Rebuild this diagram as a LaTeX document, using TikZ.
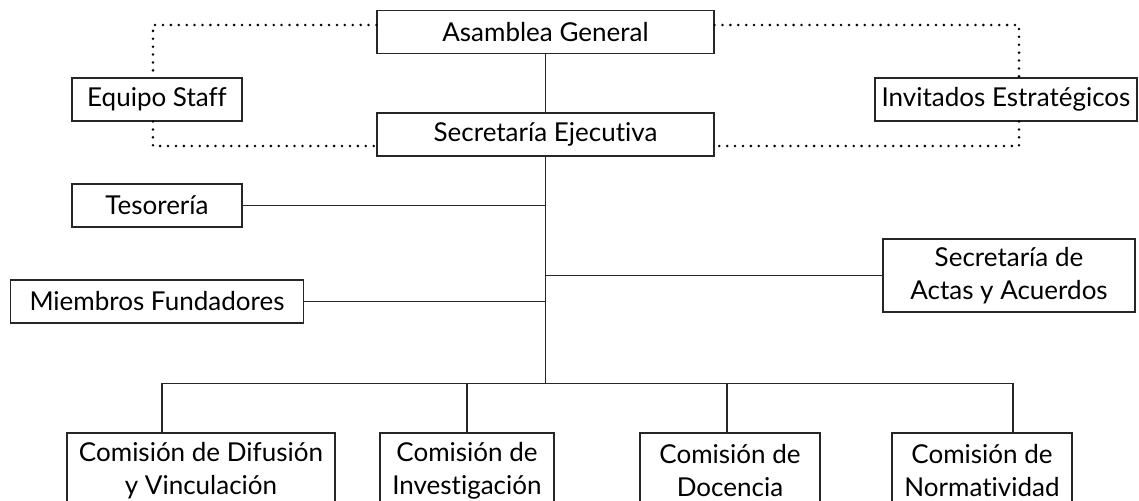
\documentclass[tikz,border=0pt]{standalone}
\usepackage{fontspec}
\setmainfont{Lato}[Ligatures={NoCommon}]
\usetikzlibrary{positioning}

\begin{document}
\begin{tikzpicture}[node distance=2cm,on grid,
	box/.style={draw=black!85,line width=0.6pt,inner sep=0pt,minimum height=0.86cm,align=center,font=\fontsize{14.8}{18.6}\selectfont}]
	\useasboundingbox (-10.91,0.64) rectangle (11.87,-9.38);
			  \node[box,minimum width=6.74cm]          (asam) 			     {Asamblea General};
			  \node[box,minimum width=6.74cm]          (sec) [below =2.05cm of asam]    {Secretaría Ejecutiva};
			  \node[box,minimum width=3.4cm]          (staff) [below left =1.35cm and 7.77cm of asam]    {Equipo Staff};
			  \node[box,minimum width=5.24cm]          (inv) [below right =1.35cm and 9.21cm of asam]    {Invitados Estratégicos};
			  \node[box,minimum width=3.4cm]          (tes) [below =2.12cm of staff]    {Tesorería};
			  \node[box,minimum width=5.86cm]          (mf) [below =1.92cm of tes]    {Miembros Fundadores};
			  \node[box,minimum width=5.04cm,minimum height=1.46cm]          (actas) [below right =3.52cm and 0.06cm of inv]    {Secretaría de\\Actas y Acuerdos};
			  \node[box,minimum width=5.36cm,minimum height=1.5cm]          (d1) [below left =6.72cm and 6.89cm of sec]    {Comisión de Difusión\\y Vinculación};
			  \node[box,minimum width=3.48cm,minimum height=1.5cm]          (d2) [right =5.32cm of d1]    {Comisión de\\Investigación};
			  \node[box,minimum width=3.6cm,minimum height=1.5cm]          (d3) [right =5.26cm of d2]    {Comisión de\\Docencia};
			  \node[box,minimum width=3.6cm,minimum height=1.5cm]          (d4) [right =5.04cm of d3]    {Comisión de\\Normatividad};

			\path (sec.south |- d2.north) ++(0,0.98) coordinate (bus);
			\coordinate (p1) at ([xshift=-0.78cm]d1.north);
			\coordinate (p2) at (d2.north);
			\coordinate (p3) at ([xshift=-0.06cm]d3.north);
			\coordinate (p4) at ([xshift=0.62cm]d4.north);

			\tikzset{link/.style={-,draw=black!85,line width=0.6pt}}
			\tikzset{dots/.style={draw=black,line width=1.6pt,line cap=round,dash pattern=on 0pt off 4.5pt}}
			\path (asam)     edge [link]    (sec)
				  (sec)     edge [link]    (bus)
				  (tes)     edge [link]    (tes -| bus)
				  (mf)     edge [link]    (mf -| bus)
				  (actas)     edge [link]    (actas -| bus)
				  (p2)     edge [link]    (p2 |- bus)
				  (p3)     edge [link]    (p3 |- bus);
			\draw[link] (p1) |- (p4 |- bus) -- (p4);
			\draw[dots] ([yshift=0.14cm]asam.west) -| ([xshift=-0.08cm]staff.north);
			\draw[dots] ([xshift=-0.08cm]staff.south) |- ([yshift=-0.23cm]sec.west);
			\draw[dots] ([yshift=0.14cm]asam.east) -| ([xshift=0.26cm]inv.north);
			\draw[dots] ([xshift=0.26cm]inv.south) |- ([yshift=-0.23cm]sec.east);
		\end{tikzpicture}
\end{document}
